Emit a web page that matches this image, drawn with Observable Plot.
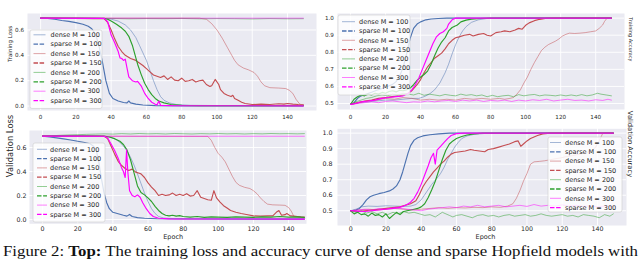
<!DOCTYPE html>
<html><head><meta charset="utf-8">
<script src="https://cdn.jsdelivr.net/npm/d3@7"></script>
<script src="https://cdn.jsdelivr.net/npm/@observablehq/plot@0.6"></script>
<style>
body{margin:0;background:#fff}
#fig{position:relative;width:640px;height:259px;overflow:hidden;font-family:"DejaVu Sans",sans-serif}
#fig > svg, #fig > div{position:absolute}
</style></head><body><div id="fig"></div>
<script>
const seriesLabels = ["dense M = 100","sparse M = 100","dense M = 150","sparse M = 150","dense M = 200","sparse M = 200","dense M = 300","sparse M = 300"];
const seriesColors = ["#4c72b0","#4c72b0","#c44e52","#c44e52","#2ca02c","#2ca02c","#ff00ff","#ff00ff"];
const xTicks = [0,20,40,60,80,100,120,140];
const lossTicks = [0,0.2,0.4,0.6];
const accTicks = [0.5,0.6,0.7,0.8,0.9,1.0];
const captionBefore = "Figure 2: ";
const captionBold = "Top:";
const captionAfter = " The training loss and accuracy curve of dense and sparse Hopfield models with";

// ---- Training loss (top left) ----
const tlDense100 = [[0,0.693],[10,0.693],[20,0.693],[30,0.692],[36,0.69],[40,0.685],[44,0.67],[48,0.64],[51,0.6],[54,0.54],[56,0.48],[58,0.42],[60,0.36],[62,0.28],[64,0.2],[66,0.13],[68,0.075],[70,0.045],[73,0.025],[77,0.012],[85,0.006],[100,0.004],[149,0.003]];
const tlSparse100 = [[0,0.693],[4,0.692],[8,0.685],[12,0.675],[16,0.668],[20,0.658],[24,0.645],[27,0.63],[29,0.61],[31,0.57],[33,0.48],[35,0.35],[37,0.2],[39,0.1],[41,0.06],[44,0.04],[47,0.028],[49,0.025],[50,0.04],[51,0.025],[54,0.015],[58,0.008],[65,0.004],[80,0.002],[149,0.002]];
const tlDense150 = [[0,0.693],[90,0.693],[94,0.685],[97,0.65],[100,0.6],[103,0.535],[106,0.46],[108,0.41],[110,0.36],[112,0.325],[115,0.3],[118,0.285],[121,0.265],[123,0.235],[125,0.19],[127,0.16],[130,0.145],[135,0.142],[139,0.138],[141,0.125],[143,0.1],[145,0.05],[147,0.015],[149,0.008]];
const tlSparse150 = [[0,0.693],[36,0.69],[38,0.66],[40,0.6],[42,0.53],[44,0.47],[46,0.43],[48,0.4],[51,0.375],[54,0.36],[56,0.34],[58,0.32],[60,0.295],[62,0.27],[64,0.245],[66,0.235],[68,0.225],[70,0.238],[72,0.21],[74,0.23],[76,0.205],[78,0.2],[80,0.22],[82,0.195],[84,0.2],[86,0.21],[88,0.19],[90,0.2],[92,0.205],[94,0.17],[96,0.155],[97,0.16],[99,0.21],[101,0.17],[102,0.13],[104,0.1],[106,0.085],[108,0.075],[109,0.085],[110,0.06],[112,0.045],[114,0.03],[116,0.02],[120,0.012],[125,0.015],[130,0.012],[135,0.018],[138,0.015],[140,0.02],[143,0.015],[146,0.012],[149,0.01]];
const tlDense200 = [[0,0.693],[10,0.69],[20,0.692],[30,0.689],[40,0.691],[50,0.688],[60,0.69],[70,0.689],[80,0.691],[90,0.688],[100,0.69],[110,0.689],[120,0.687],[130,0.69],[140,0.688],[149,0.689]];
const tlSparse200 = [[0,0.693],[36,0.692],[38,0.685],[40,0.67],[43,0.645],[46,0.615],[48,0.59],[50,0.55],[52,0.48],[54,0.38],[55,0.33],[57,0.25],[59,0.18],[61,0.13],[63,0.09],[65,0.06],[67,0.04],[70,0.025],[74,0.012],[80,0.006],[90,0.004],[149,0.004]];
const tlDense300 = [[0,0.693],[50,0.693],[100,0.693],[149,0.693]];
const tlSparse300 = [[0,0.693],[36,0.692],[38,0.665],[40,0.56],[42,0.5],[44,0.43],[45,0.38],[46,0.375],[47,0.36],[48,0.37],[49,0.3],[50,0.23],[52,0.2],[54,0.19],[55,0.195],[57,0.16],[59,0.1],[61,0.06],[63,0.03],[65,0.015],[66,0.008],[67,0.04],[68,0.006],[75,0.003],[149,0.002]];

// ---- Training accuracy (top right) ----
const trDense100 = [[0,0.495],[5,0.505],[10,0.51],[15,0.515],[20,0.52],[25,0.52],[30,0.525],[35,0.53],[39,0.53],[42,0.54],[45,0.555],[48,0.58],[51,0.62],[54,0.68],[56,0.73],[58,0.79],[60,0.845],[62,0.89],[64,0.925],[66,0.95],[69,0.975],[73,0.99],[78,0.998],[84,1.0],[149,1.0]];
const trSparse100 = [[0,0.495],[2,0.505],[4,0.53],[6,0.545],[9,0.555],[12,0.566],[15,0.578],[18,0.588],[21,0.6],[24,0.612],[26,0.628],[28,0.66],[30,0.71],[32,0.79],[34,0.88],[36,0.94],[38,0.965],[40,0.978],[43,0.99],[46,0.995],[50,0.998],[55,1.0],[149,1.0]];
const trDense150 = [[0,0.495],[5,0.505],[10,0.515],[15,0.52],[20,0.53],[25,0.525],[30,0.535],[35,0.53],[40,0.52],[45,0.525],[50,0.52],[55,0.525],[60,0.52],[65,0.53],[70,0.525],[75,0.53],[80,0.525],[85,0.53],[88,0.525],[91,0.53],[93,0.535],[95,0.555],[97,0.58],[99,0.62],[101,0.655],[103,0.7],[105,0.74],[107,0.775],[109,0.81],[111,0.83],[113,0.845],[115,0.855],[117,0.865],[119,0.878],[121,0.895],[123,0.905],[125,0.912],[128,0.91],[131,0.912],[134,0.915],[137,0.92],[140,0.925],[142,0.94],[144,0.96],[145,0.98],[146.5,1.0],[149,1.0]];
const trSparse150 = [[0,0.495],[4,0.505],[8,0.515],[12,0.52],[16,0.53],[20,0.535],[24,0.54],[28,0.545],[32,0.555],[35,0.575],[38,0.61],[40,0.64],[42,0.68],[44,0.715],[46,0.74],[48,0.765],[50,0.78],[52,0.795],[54,0.82],[56,0.85],[58,0.87],[60,0.885],[62,0.89],[65,0.9],[68,0.905],[70,0.895],[73,0.905],[76,0.91],[78,0.9],[80,0.895],[83,0.915],[86,0.92],[88,0.925],[91,0.92],[94,0.93],[96,0.94],[98,0.935],[100,0.958],[102,0.972],[105,0.985],[108,0.993],[112,0.999],[116,1.0],[149,1.0]];
const trDense200 = [[0,0.495],[3,0.51],[6,0.52],[9,0.53],[12,0.535],[15,0.545],[18,0.55],[21,0.545],[24,0.555],[27,0.55],[30,0.56],[33,0.555],[36,0.55],[39,0.56],[42,0.548],[45,0.555],[48,0.55],[51,0.545],[54,0.553],[57,0.548],[60,0.545],[63,0.555],[66,0.548],[69,0.552],[72,0.545],[75,0.55],[78,0.54],[81,0.548],[84,0.54],[87,0.545],[90,0.548],[93,0.54],[96,0.552],[99,0.545],[102,0.55],[105,0.553],[108,0.545],[111,0.55],[114,0.548],[117,0.545],[120,0.55],[123,0.545],[126,0.55],[129,0.545],[132,0.552],[135,0.545],[138,0.55],[141,0.56],[143,0.555],[146,0.55],[149,0.545]];
const trSparse200 = [[0,0.495],[2,0.525],[4,0.54],[6,0.55],[8,0.545],[10,0.555],[12,0.55],[14,0.56],[16,0.555],[18,0.565],[20,0.56],[22,0.57],[24,0.575],[26,0.568],[28,0.578],[30,0.575],[32,0.58],[34,0.59],[36,0.61],[38,0.635],[40,0.655],[42,0.67],[44,0.69],[46,0.73],[48,0.78],[50,0.825],[52,0.86],[54,0.885],[56,0.925],[58,0.945],[61,0.96],[63,0.978],[66,0.988],[69,0.994],[74,0.998],[80,1.0],[149,1.0]];
const trDense300 = [[0,0.495],[4,0.5],[8,0.505],[12,0.51],[16,0.505],[20,0.512],[24,0.515],[28,0.51],[32,0.505],[36,0.51],[40,0.508],[44,0.515],[48,0.51],[52,0.515],[56,0.518],[60,0.512],[64,0.52],[68,0.515],[72,0.52],[76,0.512],[80,0.518],[84,0.515],[88,0.52],[92,0.512],[96,0.52],[100,0.515],[104,0.522],[108,0.518],[112,0.525],[116,0.515],[120,0.52],[124,0.525],[128,0.518],[132,0.52],[136,0.515],[140,0.522],[144,0.518],[147,0.525],[149,0.52]];
const trSparse300 = [[0,0.495],[3,0.5],[6,0.51],[10,0.515],[14,0.52],[18,0.53],[22,0.535],[26,0.54],[30,0.545],[33,0.56],[35,0.58],[37,0.61],[39,0.65],[41,0.7],[43,0.75],[45,0.8],[47,0.85],[49,0.89],[51,0.91],[53,0.92],[55,0.94],[56,0.965],[58,0.99],[60,1.0],[149,1.0]];

// ---- Validation loss (bottom left) ----
const blDense100 = [[0,0.695],[20,0.695],[36,0.692],[39,0.685],[42,0.665],[45,0.63],[48,0.575],[50,0.52],[52,0.455],[54,0.38],[56,0.3],[58,0.22],[60,0.15],[62,0.09],[64,0.05],[66,0.025],[69,0.012],[75,0.007],[149,0.005]];
const blSparse100 = [[0,0.695],[4,0.688],[8,0.68],[12,0.672],[16,0.663],[20,0.652],[24,0.642],[27,0.632],[29,0.61],[30.5,0.58],[32,0.48],[33.5,0.34],[35,0.22],[36.5,0.14],[38,0.09],[40,0.06],[43,0.048],[46,0.035],[48,0.028],[49.5,0.042],[51,0.025],[54,0.016],[58,0.01],[65,0.006],[80,0.004],[149,0.003]];
const blDense150 = [[0,0.695],[94,0.693],[96,0.66],[98,0.6],[100,0.55],[102,0.52],[104,0.48],[106,0.42],[108,0.36],[110,0.31],[112,0.285],[115,0.268],[118,0.258],[120,0.24],[122,0.215],[124,0.18],[126,0.15],[128,0.128],[131,0.122],[135,0.12],[138,0.118],[140,0.1],[141.5,0.07],[143,0.025],[146,0.02],[149,0.012]];
const blSparse150 = [[0,0.695],[35,0.694],[37,0.675],[39,0.61],[41,0.545],[43,0.485],[45,0.45],[47,0.425],[49,0.408],[51,0.42],[53,0.395],[55,0.385],[56,0.38],[58,0.35],[60,0.305],[62,0.27],[64,0.24],[66,0.2],[68,0.21],[70,0.2],[72,0.205],[74,0.22],[76,0.2],[78,0.21],[80,0.2],[82,0.215],[84,0.195],[86,0.2],[88,0.24],[90,0.185],[92,0.175],[94,0.165],[96,0.16],[97.5,0.24],[99,0.18],[101,0.145],[103,0.115],[105,0.095],[107,0.075],[110,0.06],[113,0.05],[116,0.042],[120,0.03],[124,0.028],[128,0.03],[131,0.03],[133,0.06],[134.5,0.075],[136,0.035],[138,0.04],[139,0.05],[141,0.03],[143,0.028],[145,0.025],[147,0.022],[149,0.02]];
const blDense200 = [[0,0.695],[5,0.698],[10,0.702],[15,0.705],[20,0.707],[25,0.71],[30,0.712],[35,0.714],[40,0.712],[45,0.716],[50,0.713],[55,0.717],[60,0.714],[65,0.716],[70,0.713],[75,0.717],[80,0.715],[85,0.713],[90,0.716],[95,0.714],[100,0.717],[105,0.714],[110,0.716],[115,0.713],[120,0.716],[125,0.714],[130,0.717],[135,0.715],[140,0.716],[145,0.714],[149,0.716]];
const blSparse200 = [[0,0.695],[20,0.697],[35,0.696],[38,0.688],[41,0.674],[44,0.652],[46,0.625],[48,0.58],[50,0.5],[52,0.39],[54,0.28],[56,0.225],[58,0.205],[60,0.18],[62,0.15],[64,0.11],[66,0.075],[68,0.05],[70,0.035],[72,0.03],[74,0.035],[76,0.028],[78,0.032],[80,0.025],[84,0.02],[88,0.025],[92,0.018],[96,0.022],[100,0.02],[105,0.018],[110,0.022],[115,0.02],[120,0.018],[125,0.022],[130,0.02],[135,0.025],[140,0.02],[145,0.022],[149,0.018]];
const blDense300 = [[0,0.695],[50,0.694],[100,0.694],[149,0.694]];
const blSparse300 = [[0,0.695],[20,0.695],[35,0.694],[37,0.68],[39,0.63],[41,0.575],[43,0.51],[45,0.43],[46,0.4],[47,0.35],[47.8,0.58],[48.5,0.4],[49.5,0.24],[51,0.2],[52.5,0.19],[54,0.205],[55.5,0.185],[57,0.14],[59,0.09],[61,0.05],[63,0.025],[66,0.01],[72,0.005],[149,0.003]];

// ---- Validation accuracy (bottom right) ----
const brDense100 = [[0,0.5],[3,0.51],[6,0.525],[10,0.53],[15,0.528],[20,0.532],[25,0.53],[30,0.528],[34,0.53],[37,0.54],[40,0.57],[43,0.62],[46,0.67],[49,0.71],[51,0.74],[53,0.78],[55,0.83],[57,0.87],[59,0.91],[61,0.94],[63,0.965],[66,0.982],[70,0.992],[76,0.998],[85,1.0],[149,1.0]];
const brSparse100 = [[0,0.5],[3,0.505],[5,0.515],[7,0.54],[9,0.57],[11,0.59],[13,0.6],[16,0.61],[19,0.618],[22,0.628],[24,0.64],[26,0.66],[28,0.7],[29.5,0.75],[31,0.81],[32.5,0.87],[34,0.92],[36,0.955],[38,0.97],[41,0.982],[45,0.99],[50,0.995],[56,1.0],[149,1.0]];
const brDense150 = [[0,0.5],[5,0.505],[10,0.51],[15,0.505],[20,0.51],[25,0.515],[30,0.51],[35,0.505],[40,0.51],[45,0.515],[50,0.52],[55,0.515],[60,0.52],[65,0.518],[70,0.522],[75,0.52],[80,0.525],[85,0.522],[89,0.53],[92,0.545],[94,0.58],[96,0.63],[98,0.69],[100,0.74],[102,0.8],[104,0.815],[107,0.818],[110,0.822],[113,0.828],[116,0.835],[119,0.84],[122,0.848],[126,0.855],[130,0.865],[134,0.875],[137,0.89],[139,0.91],[141,0.95],[143,1.0],[149,1.0]];
const brSparse150 = [[0,0.5],[4,0.495],[8,0.5],[12,0.505],[16,0.51],[20,0.515],[24,0.52],[28,0.525],[31,0.535],[34,0.545],[37,0.565],[39,0.605],[41,0.655],[43,0.69],[45,0.72],[47,0.75],[49,0.775],[51,0.8],[53,0.82],[55,0.845],[57,0.865],[59,0.875],[62,0.88],[65,0.885],[68,0.895],[70,0.89],[73,0.885],[76,0.88],[78,0.895],[81,0.9],[84,0.91],[87,0.92],[90,0.93],[93,0.945],[95,0.95],[96.5,0.915],[98,0.93],[100,0.95],[102,0.965],[104,0.975],[106,0.985],[109,0.995],[113,1.0],[149,1.0]];
const brDense200 = [[0,0.5],[3,0.49],[6,0.5],[9,0.485],[12,0.495],[15,0.48],[18,0.49],[21,0.475],[24,0.49],[27,0.48],[30,0.495],[33,0.485],[36,0.49],[39,0.48],[42,0.47],[45,0.475],[48,0.46],[50,0.475],[52,0.49],[54,0.48],[56,0.47],[58,0.46],[60,0.47],[63,0.475],[66,0.465],[69,0.455],[72,0.47],[75,0.475],[78,0.465],[81,0.47],[84,0.46],[87,0.47],[90,0.475],[93,0.465],[96,0.47],[99,0.475],[102,0.465],[105,0.47],[108,0.48],[111,0.47],[114,0.465],[117,0.47],[120,0.475],[123,0.465],[126,0.47],[129,0.46],[132,0.475],[135,0.47],[138,0.465],[141,0.455],[144,0.475],[147,0.465],[149,0.48]];
const brSparse200 = [[0,0.5],[2,0.48],[4,0.49],[6,0.475],[8,0.48],[10,0.465],[12,0.485],[14,0.47],[16,0.475],[18,0.46],[20,0.48],[22,0.45],[24,0.47],[26,0.49],[28,0.475],[30,0.495],[32,0.5],[34,0.505],[36,0.51],[38,0.515],[40,0.525],[42,0.545],[44,0.585],[46,0.635],[48,0.69],[50,0.76],[52,0.83],[54,0.89],[56,0.93],[58,0.95],[60,0.965],[63,0.978],[66,0.988],[70,0.995],[75,1.0],[149,1.0]];
const brDense300 = [[0,0.5],[4,0.505],[8,0.51],[12,0.505],[16,0.515],[20,0.51],[24,0.52],[28,0.515],[32,0.51],[36,0.505],[40,0.5],[44,0.51],[48,0.515],[52,0.52],[56,0.525],[60,0.52],[64,0.53],[68,0.525],[72,0.535],[76,0.525],[80,0.53],[84,0.535],[88,0.525],[92,0.53],[96,0.535],[100,0.528],[104,0.54],[108,0.53],[112,0.535],[116,0.53],[120,0.538],[124,0.53],[128,0.535],[132,0.528],[136,0.532],[140,0.525],[144,0.53],[149,0.525]];
const brSparse300 = [[0,0.5],[4,0.498],[8,0.495],[12,0.5],[16,0.505],[20,0.51],[24,0.515],[27,0.52],[30,0.53],[32,0.54],[34,0.555],[36,0.58],[38,0.62],[40,0.67],[42,0.73],[44,0.79],[45.5,0.84],[47,0.87],[48,0.8],[49,0.89],[51,0.915],[53,0.94],[55,0.965],[57,0.985],[60,0.997],[64,1.0],[149,1.0]];

const fig = document.getElementById("fig");

function makeLegend(box, rows) {
  const svg = d3.create("svg")
    .attr("width", box.w + 2).attr("height", box.h + 2)
    .style("left", (box.x - 1) + "px").style("top", (box.y - 1) + "px").style("overflow", "visible");
  svg.append("rect").attr("x", 1).attr("y", 1).attr("width", box.w).attr("height", box.h)
    .attr("rx", 2).attr("fill", "#ffffff").attr("fill-opacity", 0.8)
    .attr("stroke", "#cccccc").attr("stroke-width", 0.6);
  seriesLabels.forEach((lab, i) => {
    const cy = 1 + rows.first + i * rows.step;
    const dense = i % 2 === 0;
    svg.append("line").attr("x1", 1 + rows.h0).attr("x2", 1 + rows.h1).attr("y1", cy).attr("y2", cy)
      .attr("stroke", seriesColors[i]).attr("stroke-opacity", dense ? 0.5 : 1)
      .attr("stroke-width", dense ? 1 : 1.3).attr("stroke-dasharray", dense ? null : "4.5,1.6");
    svg.append("text").attr("x", 1 + rows.tx).attr("y", cy).attr("dy", "0.35em")
      .attr("font-size", rows.fs).attr("font-family", "DejaVu Sans").attr("fill", "#262626").text(lab);
  });
  fig.appendChild(svg.node());
}

function makePanel(c) {
  const series = c.series;
  const marks = [
    Plot.frame({fill: "#eaeaf2", stroke: null}),
    Plot.gridX(xTicks, {stroke: "#ffffff", strokeOpacity: 1, strokeWidth: 0.9}),
    Plot.gridY(c.yTicks, {stroke: "#ffffff", strokeOpacity: 1, strokeWidth: 0.9}),
    ...series.map((s, i) => Plot.line(s, {
      x: d => d[0], y: d => d[1], stroke: seriesColors[i],
      strokeOpacity: i % 2 === 0 ? 0.5 : 1, strokeWidth: i % 2 === 0 ? 1.0 : 1.15
    })),
    Plot.axisX(xTicks, {tickSize: 0, tickPadding: c.xPad, fontSize: c.fs, tickFormat: d => String(d), label: null}),
    Plot.axisY(c.yTicks, {tickSize: 0, tickPadding: c.yPad, fontSize: c.fs, tickFormat: d3.format(".1f"), label: null}),
    Plot.text([c.yLabel], {frameAnchor: c.labelSide, dx: c.labelDx, rotate: c.labelSide === "left" ? -90 : 90, fontSize: c.labelFs, fill: "#262626"})
  ];
  if (c.epoch) marks.push(Plot.text(["Epoch"], {frameAnchor: "bottom", dy: c.epoch.dy, dx: c.epoch.dx, fontSize: 6.5, fill: "#262626"}));
  const p = Plot.plot({
    width: c.w, height: c.h,
    marginLeft: c.m[0], marginRight: c.m[1], marginTop: c.m[2], marginBottom: c.m[3],
    x: {domain: c.xDomain}, y: {domain: c.yDomain},
    style: {fontFamily: "DejaVu Sans", color: "#262626", background: "none", overflow: "visible"},
    marks
  });
  p.style.left = c.left + "px"; p.style.top = c.top + "px";
  fig.appendChild(p);
}

makePanel({left: 0, top: 0, w: 320, h: 125, m: [27, 4, 13, 15], xDomain: [-7.45, 156.45], yDomain: [-0.035, 0.73],
  yTicks: lossTicks, fs: 5.6, xPad: 4.5, yPad: 3.5, yLabel: "Training Loss", labelSide: "left", labelDx: -17, labelFs: 5.6,
  series: [tlDense100, tlSparse100, tlDense150, tlSparse150, tlDense200, tlSparse200, tlDense300, tlSparse300]});
makePanel({left: 320, top: 0, w: 320, h: 125, m: [17, 16, 13, 16], xDomain: [-7.45, 156.45], yDomain: [0.465, 1.027],
  yTicks: accTicks, fs: 5.6, xPad: 5.5, yPad: 3.7, yLabel: "Training Accuracy", labelSide: "right", labelDx: 6, labelFs: 5,
  series: [trDense100, trSparse100, trDense150, trSparse150, trDense200, trSparse200, trDense300, trSparse300]});
makePanel({left: 0, top: 125, w: 320, h: 134, m: [29, 14, 5, 35.7], xDomain: [-7.45, 150.2], yDomain: [-0.036, 0.742],
  yTicks: lossTicks, fs: 6.3, xPad: 3, yPad: 3, yLabel: "Validation Loss", labelSide: "left", labelDx: -19, labelFs: 8.4,
  epoch: {dy: 14.7, dx: 5.2},
  series: [blDense100, blSparse100, blDense150, blSparse150, blDense200, blSparse200, blDense300, blSparse300]});
makePanel({left: 320, top: 125, w: 320, h: 134, m: [17, 14, 3.3, 34], xDomain: [-7.45, 156.45], yDomain: [0.405, 1.028],
  yTicks: accTicks, fs: 6.3, xPad: 1.5, yPad: 5, yLabel: "Validation Accuracy", labelSide: "right", labelDx: 4, labelFs: 6.75,
  epoch: {dy: 13, dx: 3.5},
  series: [brDense100, brSparse100, brDense150, brSparse150, brDense200, brSparse200, brDense300, brSparse300]});

makeLegend({x: 29.5, y: 29.5, w: 72, h: 78.5}, {first: 4.8, step: 9.4, h0: 3.5, h1: 15.5, tx: 20.5, fs: 6.5});
makeLegend({x: 338, y: 15, w: 72, h: 80}, {first: 6.7, step: 9.3, h0: 4, h1: 17, tx: 21, fs: 6.5});
makeLegend({x: 33, y: 143, w: 72, h: 79}, {first: 6.3, step: 9.3, h0: 4, h1: 14, tx: 17, fs: 6.5});
makeLegend({x: 548, y: 136.5, w: 74, h: 75}, {first: 5.5, step: 9.3, h0: 2, h1: 13, tx: 17, fs: 6.5});

// caption
const cap = d3.create("svg").attr("width", 640).attr("height", 259).style("left", "0px").style("top", "0px").style("pointer-events", "none");
const t = cap.append("text").attr("x", 3).attr("y", 255.7).attr("font-family", "Liberation Serif").attr("font-size", 15)
  .attr("fill", "#111").attr("textLength", 635).attr("lengthAdjust", "spacingAndGlyphs");
t.append("tspan").text(captionBefore);
t.append("tspan").attr("font-weight", "bold").text(captionBold);
t.append("tspan").text(captionAfter);
fig.appendChild(cap.node());
</script></body></html>
